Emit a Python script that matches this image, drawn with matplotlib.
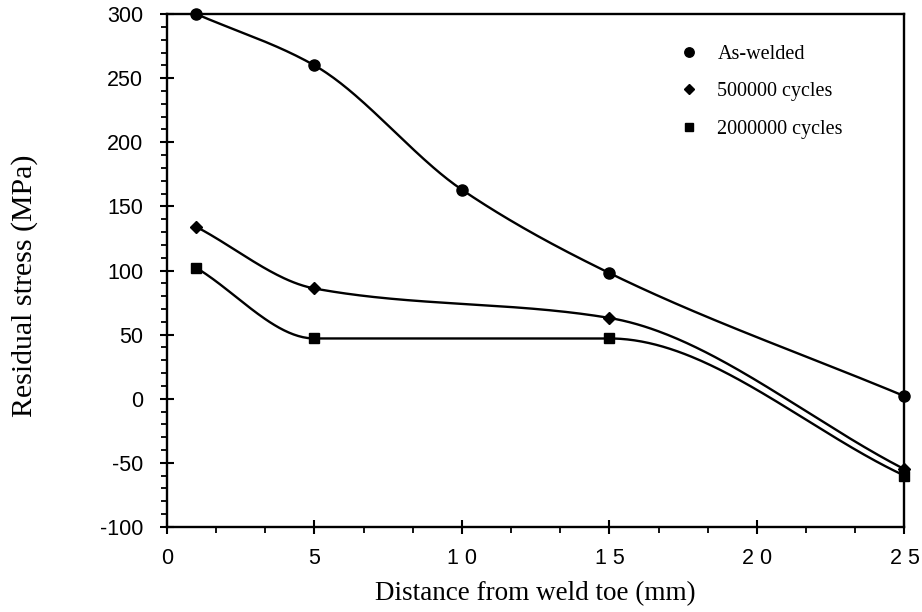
import numpy as np
import matplotlib
matplotlib.use('Agg')
import matplotlib.pyplot as plt
from matplotlib.ticker import MultipleLocator

plt.rcParams['axes.unicode_minus'] = False

# values
x_welded = [1, 5, 10, 15, 25]
y_welded = [300, 260, 163, 98, 2]
x_500k = [1, 5, 15, 25]
y_500k = [134, 86, 63, -55]
x_2m = [1, 5, 15, 25]
y_2m = [102, 47, 47, -60]
labels = ['As-welded', '500000 cycles', '2000000 cycles']

def pchip(x, y, n=300):
    # monotone cubic (Fritsch-Carlson) for the smooth hand-drawn look
    x = np.asarray(x, float); y = np.asarray(y, float)
    h = np.diff(x); d = np.diff(y) / h
    m = np.zeros_like(y)
    for k in range(1, len(x) - 1):
        if d[k-1] * d[k] > 0:
            w1 = 2*h[k] + h[k-1]; w2 = h[k] + 2*h[k-1]
            m[k] = (w1 + w2) / (w1/d[k-1] + w2/d[k])
    m[0] = d[0]; m[-1] = d[-1]
    xs = np.linspace(x[0], x[-1], n)
    i = np.clip(np.searchsorted(x, xs) - 1, 0, len(h) - 1)
    t = (xs - x[i]) / h[i]
    h00 = 2*t**3 - 3*t**2 + 1; h10 = t**3 - 2*t**2 + t
    h01 = -2*t**3 + 3*t**2; h11 = t**3 - t**2
    ys = h00*y[i] + h10*h[i]*m[i] + h01*y[i+1] + h11*h[i]*m[i+1]
    return xs, ys

fig = plt.figure(figsize=(9.22, 6.12), dpi=100)
ax = fig.add_axes([0.181, 0.139, 0.8, 0.838])

series = [(x_welded, y_welded, 'o', 8), (x_500k, y_500k, 'D', 6), (x_2m, y_2m, 's', 7.5)]
for (xv, yv, mk, ms), lab in zip(series, labels):
    xs, ys = pchip(xv, yv)
    ax.plot(xs, ys, color='black', lw=1.7, clip_on=False)
    ax.plot(xv, yv, mk, color='black', ms=ms, clip_on=False, zorder=5)

ax.set_xlim(0, 25); ax.set_ylim(-100, 300)
ax.xaxis.set_major_locator(MultipleLocator(5))
ax.xaxis.set_minor_locator(MultipleLocator(5/3))
ax.yaxis.set_major_locator(MultipleLocator(50))
ax.yaxis.set_minor_locator(MultipleLocator(10))
ax.tick_params(which='major', direction='inout', length=10, width=1.5, labelsize=15.5)
ax.tick_params(axis='y', which='major', pad=12)
ax.tick_params(axis='x', which='major', pad=10)
ax.tick_params(which='minor', direction='out', length=4, width=1.3)
ax.set_xticks([0, 5, 10, 15, 20, 25])
ax.set_xticklabels(['0', '5', '1 0', '1 5', '2 0', '2 5'])
for lbl in ax.get_xticklabels() + ax.get_yticklabels():
    lbl.set_fontfamily('Liberation Sans')
for s in ax.spines.values():
    s.set_linewidth(1.7)

ax.set_xlabel('Distance from weld toe (mm)', family='Liberation Serif', fontsize=19.5, labelpad=9)
ax.set_ylabel('Residual stress (MPa)', family='Liberation Serif', fontsize=21.5)
ax.yaxis.set_label_coords(-0.175, 0.47)

# legend drawn as in the original: markers with text, no frame
handles = [plt.Line2D([], [], ls='none', marker=mk, color='black', ms=ms * 0.85) for _, _, mk, ms in series]
leg = ax.legend(handles, labels, loc='upper left', bbox_to_anchor=(0.67, 0.975), frameon=False,
                prop={'family': 'Liberation Serif', 'size': 14.5}, labelspacing=0.9,
                handletextpad=0.9, handlelength=1.0)

fig.savefig('out.png', dpi=100)
